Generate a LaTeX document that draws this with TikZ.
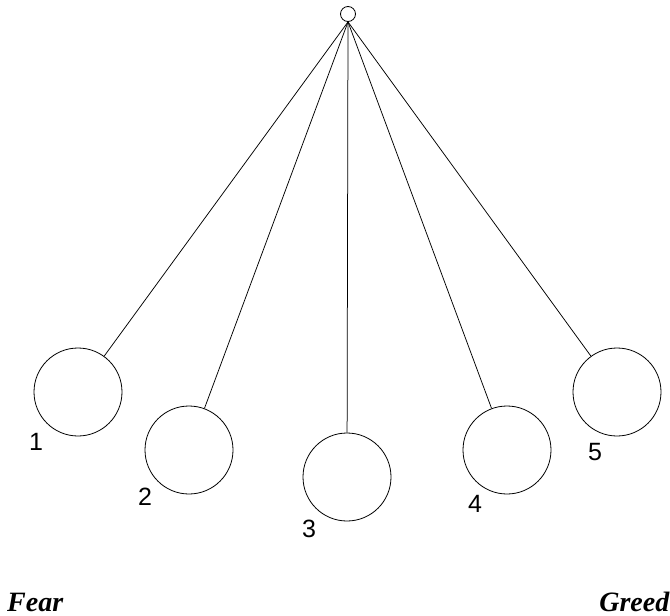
\documentclass[tikz,border=0pt]{standalone}
\usepackage{fontspec}
\setmainfont{Liberation Serif}
\newfontfamily\arialfont{Liberation Sans}
\begin{document}
\begin{tikzpicture}[x=1pt,y=-1pt,
  bob/.style={circle,draw,line width=0.8pt,minimum size=88pt,inner sep=0pt},
  pivot/.style={circle,draw,line width=0.8pt,minimum size=15pt,inner sep=0pt},
  string/.style={line width=0.75pt},
  num/.style={font=\arialfont\fontsize{25}{25}\selectfont,inner sep=0pt},
  word/.style={font=\bfseries\itshape\fontsize{28}{28}\selectfont,inner sep=0pt}]
\useasboundingbox (0,0) rectangle (670,616);
\node[pivot] (p) at (348,14) {};
\node[bob] (c1) at (78,392) {};
\node[bob] (c2) at (189,450) {};
\node[bob] (c3) at (347,477) {};
\node[bob] (c4) at (507,450) {};
\node[bob] (c5) at (617,392) {};
\draw[string] (p.south) -- (c1);
\draw[string] (p.south) -- (c2);
\draw[string] (p.south) -- (c3);
\draw[string] (p.south) -- (c4);
\draw[string] (p.south) -- (c5);
\node[num] (n1) at (36,442) {1};
\node[num] (n2) at (145,497) {2};
\node[num] (n3) at (309,529) {3};
\node[num] (n4) at (475,504) {4};
\node[num] (n5) at (595,452) {5};
\node[word,anchor=base west] (fear) at (7,611) {Fear};
\node[word,anchor=base east] (greed) at (669.5,611) {Greed};
\end{tikzpicture}
\end{document}
